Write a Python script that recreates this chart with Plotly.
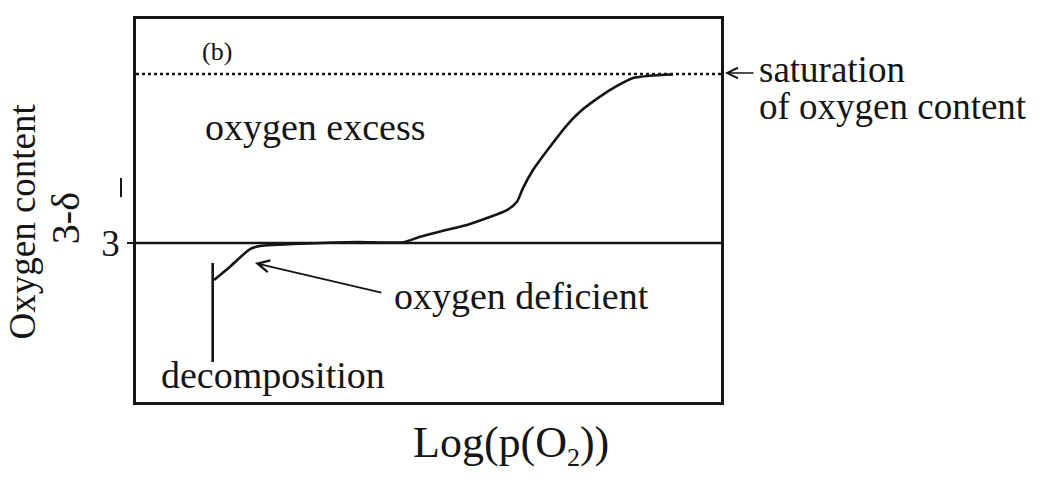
import plotly.graph_objects as go

# ---- data (schematic curve, arbitrary units) ----
curve_x = [13.33, 16.07, 19.49, 21.20, 29.18, 37.73, 45.64, 48.55, 52.48, 56.58, 60.0,
           63.42, 65.13, 66.15, 67.86, 70.77, 73.68, 75.90, 79.32, 82.22, 84.96, 87.86, 91.79]
curve_y = [2.781, 2.860, 2.964, 2.982, 2.997, 3.006, 3.004, 3.037, 3.073, 3.107, 3.148,
           3.195, 3.244, 3.325, 3.432, 3.570, 3.698, 3.777, 3.866, 3.929, 3.976, 3.990, 3.997]
decomp_x = [13.11, 13.11]
decomp_y = [2.882, 2.296]
stoich_x = [0, 100]
stoich_y = [3, 3]
sat_x = [0, 100]
sat_y = [4, 4]
ytick_vals = [3]
ytick_text = ["3"]

FONT = "Liberation Serif, Times New Roman, serif"
INK = "#151515"

fig = go.Figure()
fig.add_trace(go.Scatter(x=sat_x, y=sat_y, mode="lines",
                         line=dict(color=INK, width=2.6, dash="dot"), hoverinfo="skip"))
fig.add_trace(go.Scatter(x=stoich_x, y=stoich_y, mode="lines",
                         line=dict(color=INK, width=2.4), hoverinfo="skip"))
fig.add_trace(go.Scatter(x=curve_x, y=curve_y, mode="lines",
                         line=dict(color=INK, width=2.6, shape="spline", smoothing=0.6),
                         hoverinfo="skip"))
fig.add_trace(go.Scatter(x=decomp_x, y=decomp_y, mode="lines",
                         line=dict(color=INK, width=2.6), hoverinfo="skip"))

def txt(x, y, s, size, xanchor="center", angle=0, ref="data"):
    xr, yr = ("x", "y") if ref == "data" else ("paper", "paper")
    fig.add_annotation(x=x, y=y, xref=xr, yref=yr, text=s, showarrow=False,
                       xanchor=xanchor, yanchor="middle", textangle=angle,
                       font=dict(family=FONT, size=size, color=INK))

txt(13.85, 4.136, "(b)", 26)
txt(30.6, 3.686, "oxygen excess", 38)
txt(65.9, 2.689, "oxygen deficient", 38)
txt(23.5, 2.219, "decomposition", 38)
txt(1.0615, 0.868, "saturation", 37, xanchor="left", ref="paper")
txt(1.0615, 0.772, "of oxygen content", 37, xanchor="left", ref="paper")
txt(0.641, -0.1123, "Log(p(O<sub><span style='font-size:26px'>2</span></sub>))", 44, ref="paper")
txt(-0.194, 0.470, "Oxygen content", 37, angle=-90, ref="paper")
txt(-0.1214, 0.480, "3-δ", 40, angle=-90, ref="paper")

# arrows
fig.add_annotation(x=1.0068, y=0.859, xref="paper", yref="paper", ax=30, ay=0,
                   text="", showarrow=True, arrowhead=5,
                   arrowsize=1.3, arrowwidth=1.6, arrowcolor=INK)
fig.add_annotation(x=20.34, y=2.882, ax=42.2, ay=2.704, xref="x", yref="y",
                   axref="x", ayref="y", text="", showarrow=True, arrowhead=5,
                   arrowsize=1.3, arrowwidth=1.8, arrowcolor=INK)

# overbar of the y label
fig.add_shape(type="line", xref="paper", yref="paper", x0=-0.0256, x1=-0.0256,
              y0=0.535, y1=0.585, line=dict(color=INK, width=2))

fig.update_xaxes(range=[0, 100], showgrid=False, zeroline=False, showticklabels=False,
                 ticks="", showline=True, mirror=True, linecolor=INK, linewidth=2.6)
fig.update_yaxes(range=[2.0592, 4.3254], showgrid=False, zeroline=False,
                 tickvals=ytick_vals, ticktext=ytick_text, ticks="outside", ticklen=6,
                 tickwidth=2, tickcolor=INK,
                 tickfont=dict(family=FONT, size=37, color=INK),
                 showline=True, mirror=True, linecolor=INK, linewidth=2.6)

fig.update_layout(width=1045, height=480, margin=dict(l=136, r=324, t=19, b=78),
                  paper_bgcolor="white", plot_bgcolor="white", showlegend=False)

fig.write_html("out.html")
